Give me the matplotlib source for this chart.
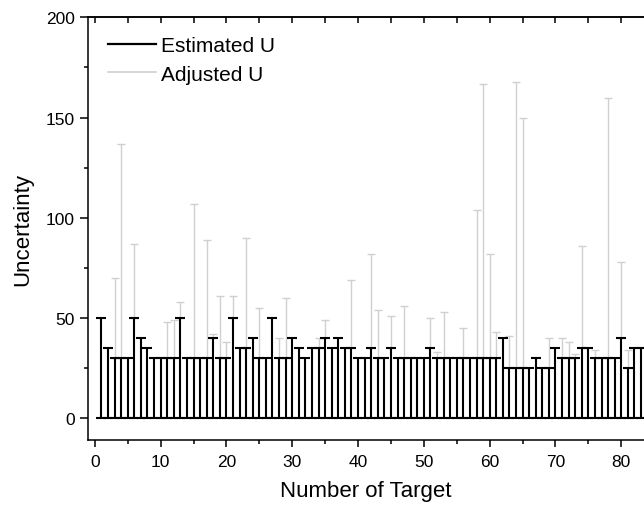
import numpy as np
import matplotlib
matplotlib.use('Agg')
import matplotlib.pyplot as plt
from matplotlib.lines import Line2D
from matplotlib.ticker import MultipleLocator

plt.rcParams['font.family'] = ['Liberation Sans', 'DejaVu Sans']

# target numbers 1..83
targets = list(range(1, 84))

# estimated uncertainty (black)
estimated_u = [50, 35, 30, 30, 30, 50, 40, 35, 30, 30,
               30, 30, 50, 30, 30, 30, 30, 40, 30, 30,
               50, 35, 35, 40, 30, 30, 50, 30, 30, 40,
               35, 30, 35, 35, 40, 35, 40, 35, 35, 30,
               30, 35, 30, 30, 35, 30, 30, 30, 30, 30,
               35, 30, 30, 30, 30, 30, 30, 30, 30, 30,
               30, 40, 25, 25, 25, 25, 30, 25, 25, 35,
               30, 30, 30, 35, 35, 30, 30, 30, 30, 40,
               25, 35, 35]

# adjusted uncertainty (grey)
adjusted_u = [50, 35, 70, 137, 30, 87, 40, 35, 30, 30,
              48, 49, 58, 30, 107, 30, 89, 42, 61, 38,
              61, 35, 90, 40, 55, 30, 50, 40, 60, 40,
              35, 30, 35, 40, 49, 35, 40, 35, 69, 30,
              30, 82, 54, 30, 51, 30, 56, 30, 30, 30,
              50, 33, 53, 30, 30, 45, 30, 104, 167, 82,
              43, 40, 41, 168, 150, 25, 30, 25, 40, 35,
              40, 38, 32, 86, 35, 34, 30, 160, 30, 78,
              34, 35, 35]

x = np.array(targets)
est = np.array(estimated_u)
adj = np.array(adjusted_u)

fig = plt.figure(figsize=(6.44, 5.06), dpi=100)
ax = fig.add_axes([0.137, 0.1277, 0.863, 0.836])

# grey bars: from estimated up to adjusted
m = adj > est
ax.errorbar(x[m], est[m], yerr=[np.zeros(m.sum()), adj[m] - est[m]],
            fmt='none', ecolor='#d0d0d0', elinewidth=1.0, capsize=2.6,
            capthick=1.0, zorder=2)

# black bars: from 0 up to estimated, capped at both ends
ax.errorbar(x, est, yerr=[est, np.zeros(len(est))], fmt='none',
            ecolor='black', elinewidth=1.5, capsize=3.7, capthick=1.5,
            zorder=3)

ax.set_xlim(-1.0, 83.45)
ax.set_ylim(-11, 200)

ax.xaxis.set_major_locator(MultipleLocator(10))
ax.xaxis.set_minor_locator(MultipleLocator(5))
ax.yaxis.set_major_locator(MultipleLocator(50))
ax.yaxis.set_minor_locator(MultipleLocator(25))

ax.spines['right'].set_visible(False)
for s in ['left', 'bottom', 'top']:
    ax.spines[s].set_linewidth(1.1)

ax.tick_params(axis='x', which='both', bottom=True, top=False,
               direction='out', labelsize=12.5, width=1.1, pad=5)
ax.tick_params(axis='x', which='major', length=5)
ax.tick_params(axis='x', which='minor', length=3)
ax.tick_params(axis='y', which='major', length=6, width=1.1,
               direction='out', labelsize=12.5)
ax.tick_params(axis='y', which='minor', length=3, width=1.1,
               direction='out')

# top axis ticks point inwards
sec = ax.secondary_xaxis('top')
sec.xaxis.set_major_locator(MultipleLocator(10))
sec.xaxis.set_minor_locator(MultipleLocator(5))
sec.tick_params(which='both', direction='in', length=4, width=1.1,
                labeltop=False)
sec.spines['top'].set_linewidth(1.1)

ax.set_xlabel('Number of Target', fontsize=16, labelpad=8)
ax.set_ylabel('Uncertainty', fontsize=16, labelpad=9)

handles = [Line2D([], [], color='black', lw=1.6),
           Line2D([], [], color='#d0d0d0', lw=1.2)]
ax.legend(handles, ['Estimated U', 'Adjusted U'], loc='upper left',
          bbox_to_anchor=(0.01, 0.99), frameon=False, fontsize=15,
          handlelength=2.3, handletextpad=0.25, labelspacing=0.45,
          borderaxespad=0.3)

fig.savefig('out.png', dpi=100)
